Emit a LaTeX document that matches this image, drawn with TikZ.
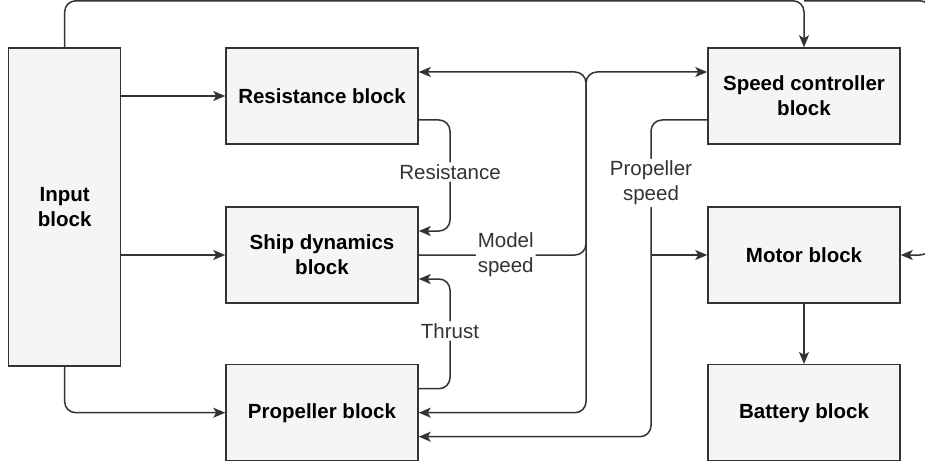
\documentclass[tikz,border=0pt]{standalone}
\usepackage{fontspec}
\setmainfont{Liberation Sans}
\usetikzlibrary{arrows.meta}
\definecolor{boxgray}{RGB}{245,245,245}
\definecolor{linegray}{RGB}{51,51,51}
\tikzset{
  centered/.style = { align=center, anchor=center },
     block/.style = { font=\bfseries\fontsize{20.5}{25}\selectfont, draw=linegray, line width=1.5pt,
                      fill=boxgray, centered, minimum width=192pt, minimum height=96pt, inner sep=0pt },
    signal/.style = { font=\fontsize{20.5}{25}\selectfont, text=linegray, fill=white, centered, inner sep=2pt },
      wire/.style = { line width=1.5pt, color=linegray, rounded corners=11pt },
     arrow/.style = { wire, -{Stealth[length=12pt,width=10pt,inset=3pt]} },
}

\begin{document}
\begin{tikzpicture}[x=1pt, y=-1pt]
  \useasboundingbox (0,0) rectangle (925,465);
  \node [block, minimum width=112pt, minimum height=318pt] (input) at (64.7,207) {Input\\block};
  \node [block] (resist)  at (322,96)    {Resistance block};
  \node [block] (ship)    at (322,255)   {Ship dynamics\\block};
  \node [block] (prop)    at (322,412.7) {Propeller block};
  \node [block] (speed)   at (804,96)    {Speed controller\\block};
  \node [block] (motor)   at (804,255)   {Motor block};
  \node [block] (battery) at (804,412.7) {Battery block};
  \coordinate (top)     at (0,0.8);
  \coordinate (offpage) at (931,0.8);
  \coordinate (busM)    at (586,72);
  \coordinate (busR)    at (450,172);
  \coordinate (busT)    at (450,331);
  \coordinate (busP)    at (651,183);
  \foreach \b in {resist,ship}
    \draw [arrow] (input.east |- \b.west) -- (\b.west);
  \draw [arrow] (input.south) |- (prop.west);
  \draw [arrow] (input.north) |- (speed.north |- top) -- (speed.north);
  \draw [arrow] (speed.north |- top) -- (offpage) |- (motor.east);
  \draw [arrow] ([yshift=-24pt]resist.east) -| (busR) node [signal] {Resistance} |- ([yshift=24pt]ship.east);
  \draw [arrow] ([yshift=24pt]prop.east) -| (busT) node [signal] {Thrust} |- ([yshift=-24pt]ship.east);
  \draw [arrow] (ship.east) -- node [signal, pos=0.52] {Model\\speed} (ship.east -| busM)
    -- (busM) -- ([yshift=24pt]resist.east);
  \draw [arrow] (ship.east -| busM) |- ([yshift=24pt]speed.west);
  \draw [arrow] (ship.east -| busM) |- (prop.east);
  \draw [arrow] ([yshift=-24pt]speed.west) -| (busP) node [signal] {Propeller\\speed} |- ([yshift=-24pt]prop.east);
  \draw [arrow] (motor.west -| busP) -- (motor.west);
  \draw [arrow] (motor) -- (battery);
\end{tikzpicture}
\end{document}
